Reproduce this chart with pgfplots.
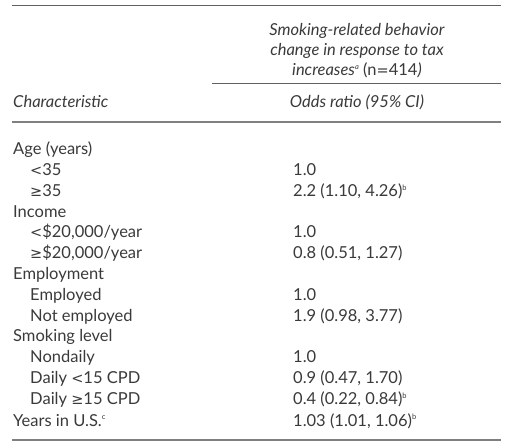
\documentclass[border=0pt]{standalone}
\usepackage{pgfplots}
\pgfplotsset{compat=1.18}
\usepackage{fontspec}
\setmainfont{Lato}
\newfontfamily\sym{DejaVu Sans}
\definecolor{txt}{HTML}{3A3A3A}
\definecolor{rulegray}{HTML}{808080}
\newcommand{\gsym}{{\sym\fontsize{14.5}{14.5}\selectfont ≥}}
\newcommand{\lsym}{{\sym\fontsize{14.5}{14.5}\selectfont <}}
\newcommand{\sps}[1]{\textsuperscript{\fontsize{7.5}{7.5}\selectfont #1}}
\tikzset{cell/.style={font=\fontsize{16.5}{16.5}\selectfont, text=txt, inner sep=0pt}}
\begin{document}
\begin{tikzpicture}
\begin{axis}[
  scale only axis, width=514pt, height=443pt,
  xmin=0, xmax=514, ymin=0, ymax=443, y dir=reverse,
  hide axis, clip=false,
]
\path[use as bounding box] (axis cs:0,0) rectangle (axis cs:514,443);
% rules
\draw[color=txt!80, line width=0.8pt] (axis cs:12,5) -- (axis cs:501,5);
\draw[color=txt!80, line width=0.8pt] (axis cs:212,83) -- (axis cs:501,83);
\draw[color=rulegray, line width=2.2pt] (axis cs:12,122) -- (axis cs:501,122);
\draw[color=rulegray, line width=2.2pt] (axis cs:12,440) -- (axis cs:501,440);
% header
\node[cell, anchor=base] at (axis cs:357,36) {\itshape Smoking-related behavior};
\node[cell, anchor=base] at (axis cs:357,56) {\itshape change in response to tax};
\node[cell, anchor=base] at (axis cs:357,76) {\itshape increases\sps{a} \upshape(n{\sym\fontsize{14.5}{14.5}\selectfont =}414\itshape)};
\node[cell, anchor=base west] at (axis cs:13,108) {\itshape Characteristic};
\node[cell, anchor=base] at (axis cs:357,108) {\itshape Odds ratio (95\% CI)};
% rows
\node[cell, anchor=base west] at (axis cs:13,155) {Age (years)};
\node[cell, anchor=base west] at (axis cs:30,176) {\lsym35};
\node[cell, anchor=base west] at (axis cs:30,197) {\gsym35};
\node[cell, anchor=base west] at (axis cs:13,218) {Income};
\node[cell, anchor=base west] at (axis cs:30,238) {\lsym\$20,000/year};
\node[cell, anchor=base west] at (axis cs:30,259) {\gsym\$20,000/year};
\node[cell, anchor=base west] at (axis cs:13,280) {Employment};
\node[cell, anchor=base west] at (axis cs:30,301) {Employed};
\node[cell, anchor=base west] at (axis cs:30,322) {Not employed};
\node[cell, anchor=base west] at (axis cs:13,342) {Smoking level};
\node[cell, anchor=base west] at (axis cs:30,363) {Nondaily};
\node[cell, anchor=base west] at (axis cs:30,384) {Daily \lsym15 CPD};
\node[cell, anchor=base west] at (axis cs:30,405) {Daily \gsym15 CPD};
\node[cell, anchor=base west] at (axis cs:13,426) {Years in U.S.\sps{c}};
% values
\node[cell, anchor=base west] at (axis cs:293,176) {1.0};
\node[cell, anchor=base west] at (axis cs:293,197) {2.2 (1.10, 4.26)\sps{b}};
\node[cell, anchor=base west] at (axis cs:293,238) {1.0};
\node[cell, anchor=base west] at (axis cs:293,259) {0.8 (0.51, 1.27)};
\node[cell, anchor=base west] at (axis cs:293,301) {1.0};
\node[cell, anchor=base west] at (axis cs:293,322) {1.9 (0.98, 3.77)};
\node[cell, anchor=base west] at (axis cs:293,363) {1.0};
\node[cell, anchor=base west] at (axis cs:293,384) {0.9 (0.47, 1.70)};
\node[cell, anchor=base west] at (axis cs:293,405) {0.4 (0.22, 0.84)\sps{b}};
\node[cell, anchor=base west] at (axis cs:293,426) {1.03 (1.01, 1.06)\sps{b}};
\end{axis}
\end{tikzpicture}
\end{document}
